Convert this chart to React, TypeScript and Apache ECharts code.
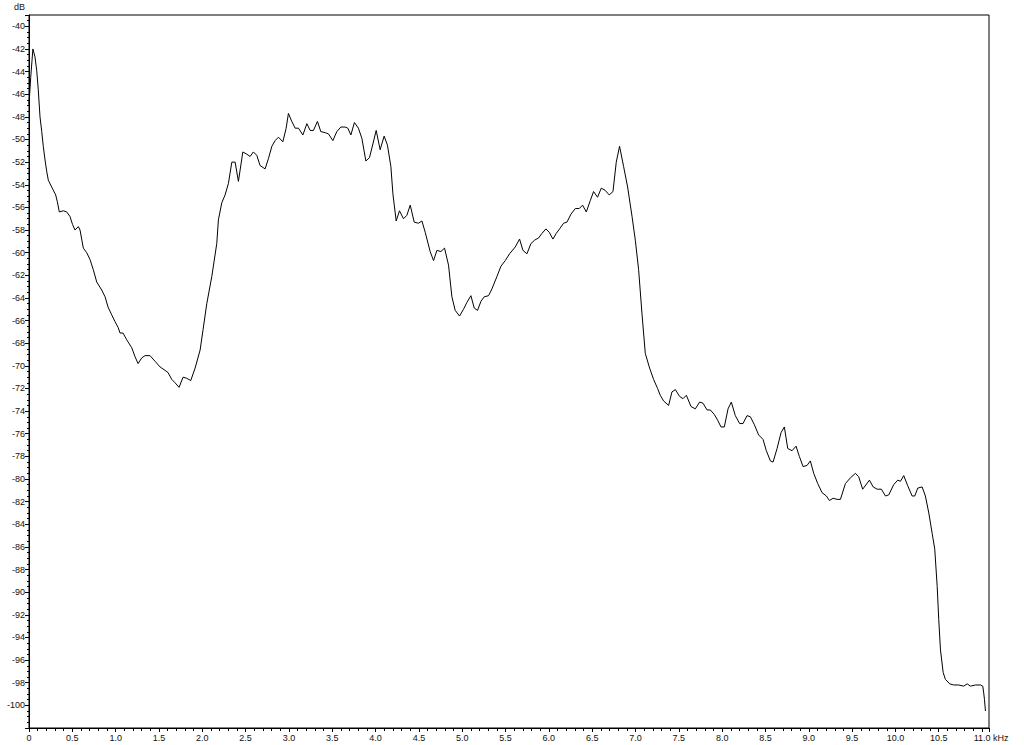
import React, { useEffect, useRef } from "react";
import * as echarts from "echarts";

// Frequency (kHz) of each spectrum sample
const freqKHz: number[] = [
  0.0, 0.02, 0.045, 0.069, 0.089, 0.107, 0.127, 0.147, 0.165, 0.185, 0.204, 0.223, 0.262, 0.308, 0.327, 0.35,
  0.396, 0.435, 0.473, 0.502, 0.531, 0.569, 0.589, 0.627, 0.666, 0.704, 0.742, 0.782, 0.839, 0.878, 0.912, 0.955,
  0.993, 1.028, 1.051, 1.085, 1.128, 1.186, 1.224, 1.259, 1.301, 1.339, 1.397, 1.455, 1.513, 1.57, 1.605, 1.648,
  1.686, 1.732, 1.778, 1.821, 1.867, 1.917, 1.975, 2.009, 2.052, 2.11, 2.167, 2.186, 2.225, 2.263, 2.301, 2.341,
  2.379, 2.417, 2.468, 2.514, 2.552, 2.59, 2.629, 2.667, 2.725, 2.763, 2.803, 2.841, 2.879, 2.93, 2.968, 2.994,
  3.033, 3.072, 3.11, 3.161, 3.207, 3.245, 3.283, 3.329, 3.368, 3.418, 3.456, 3.507, 3.553, 3.599, 3.649, 3.68,
  3.715, 3.756, 3.802, 3.842, 3.888, 3.93, 3.969, 4.007, 4.053, 4.099, 4.137, 4.177, 4.2, 4.238, 4.276, 4.322,
  4.361, 4.4, 4.446, 4.495, 4.535, 4.573, 4.63, 4.669, 4.708, 4.754, 4.796, 4.842, 4.881, 4.919, 4.969, 5.015,
  5.054, 5.1, 5.139, 5.177, 5.216, 5.254, 5.304, 5.343, 5.401, 5.447, 5.497, 5.546, 5.612, 5.662, 5.701, 5.747,
  5.793, 5.835, 5.881, 5.92, 5.966, 6.005, 6.047, 6.085, 6.124, 6.17, 6.209, 6.255, 6.305, 6.351, 6.389, 6.432,
  6.478, 6.516, 6.562, 6.605, 6.651, 6.697, 6.74, 6.778, 6.816, 6.863, 6.909, 6.96, 6.998, 7.036, 7.075, 7.113,
  7.163, 7.209, 7.255, 7.286, 7.324, 7.382, 7.421, 7.46, 7.509, 7.548, 7.587, 7.641, 7.691, 7.74, 7.779, 7.826,
  7.864, 7.91, 7.948, 7.987, 8.025, 8.068, 8.106, 8.152, 8.202, 8.241, 8.287, 8.326, 8.372, 8.421, 8.472, 8.51,
  8.557, 8.588, 8.634, 8.68, 8.718, 8.757, 8.807, 8.853, 8.891, 8.934, 8.98, 9.018, 9.057, 9.103, 9.153, 9.203,
  9.238, 9.281, 9.327, 9.365, 9.423, 9.48, 9.538, 9.576, 9.622, 9.7, 9.743, 9.789, 9.838, 9.885, 9.923, 9.98,
  10.027, 10.058, 10.096, 10.142, 10.193, 10.223, 10.258, 10.308, 10.346, 10.385, 10.424, 10.454, 10.482, 10.5,
  10.52, 10.551, 10.577, 10.627, 10.673, 10.731, 10.788, 10.828, 10.866, 10.924, 10.981, 11.008, 11.019, 11.028,
  11.039,
];

// Level (dB) of each spectrum sample
const levelDb: number[] = [
  -46.9, -44.5, -42.0, -42.7, -43.9, -45.6, -48.0, -49.3, -50.6, -51.8, -52.8, -53.6, -54.2, -54.9, -55.5, -56.4,
  -56.3, -56.4, -56.8, -57.5, -58.0, -57.7, -58.0, -59.6, -60.0, -60.6, -61.5, -62.6, -63.3, -63.9, -64.8, -65.5,
  -66.1, -66.6, -67.1, -67.1, -67.7, -68.4, -69.2, -69.8, -69.3, -69.1, -69.1, -69.6, -70.1, -70.4, -70.6, -71.2,
  -71.5, -71.9, -71.0, -71.1, -71.3, -70.2, -68.6, -66.8, -64.5, -62.1, -59.2, -57.1, -55.6, -54.9, -53.9, -52.0,
  -52.0, -53.7, -51.1, -51.3, -51.5, -51.1, -51.4, -52.3, -52.6, -51.7, -50.6, -50.1, -49.8, -50.2, -49.0, -47.7,
  -48.4, -49.0, -49.0, -49.6, -48.6, -49.2, -49.2, -48.4, -49.3, -49.4, -49.5, -50.1, -49.3, -48.9, -48.9, -49.0,
  -49.6, -48.5, -49.0, -49.9, -51.9, -51.6, -50.4, -49.2, -50.9, -49.7, -50.5, -52.4, -54.8, -57.2, -56.3, -57.0,
  -56.7, -55.8, -57.3, -57.4, -57.2, -58.2, -59.9, -60.7, -59.8, -59.9, -59.6, -61.1, -63.9, -65.1, -65.6, -65.0,
  -64.4, -63.8, -64.9, -65.1, -64.3, -63.9, -63.8, -63.2, -62.1, -61.2, -60.7, -60.1, -59.5, -58.8, -59.8, -60.1,
  -59.2, -58.9, -58.7, -58.3, -57.9, -58.2, -58.8, -58.3, -57.9, -57.4, -57.3, -56.6, -56.1, -56.1, -55.8, -56.4,
  -55.4, -54.6, -55.1, -54.3, -54.5, -54.9, -54.6, -52.0, -50.6, -52.4, -54.2, -56.8, -58.9, -61.5, -65.4, -68.9,
  -70.2, -71.2, -72.0, -72.6, -73.1, -73.5, -72.3, -72.1, -72.7, -72.9, -72.6, -73.6, -73.8, -73.2, -73.3, -73.9,
  -73.9, -74.3, -74.8, -75.4, -75.4, -73.8, -73.2, -74.4, -75.1, -75.1, -74.4, -74.5, -75.2, -76.1, -76.5, -77.5,
  -78.4, -78.5, -77.3, -75.9, -75.4, -77.3, -77.5, -77.1, -78.0, -78.9, -78.8, -78.4, -79.5, -80.4, -81.2, -81.5,
  -81.9, -81.7, -81.8, -81.8, -80.4, -79.9, -79.5, -79.8, -80.9, -80.1, -80.7, -80.9, -80.9, -81.5, -81.4, -80.5,
  -80.1, -80.2, -79.7, -80.6, -81.5, -81.5, -80.8, -80.7, -81.5, -83.0, -84.8, -86.2, -89.5, -92.4,
  -95.1, -97.1, -97.7, -98.1, -98.2, -98.2, -98.3, -98.1, -98.3, -98.2, -98.2, -98.3, -98.9, -99.5,
  -100.5,
];

const xMin = 0;
const xMax = 11.08;
const xStep = 0.5;
const yMin = -102;
const yMax = -39;
const yStep = 2;
const xUnit = "kHz";
const yUnit = "dB";

export default function App() {
  const ref = useRef<HTMLDivElement>(null);

  useEffect(() => {
    document.body.style.margin = "0";
    document.body.style.overflow = "hidden";
    if (!ref.current) return;
    const chart = echarts.init(ref.current, undefined, { renderer: "svg" });
    const font = "'Liberation Sans', Arial, sans-serif";
    const data = freqKHz.map((f, i) => [f, levelDb[i]]);
    chart.setOption({
      animation: false,
      backgroundColor: "#ffffff",
      grid: {
        left: 29,
        top: 15,
        right: 35,
        bottom: 17,
        show: true,
        borderColor: "#000000",
        borderWidth: 1,
        backgroundColor: "transparent",
      },
      graphic: [
        {
          type: "text",
          left: 993,
          top: 733,
          style: {
            text: xUnit,
            fontFamily: font,
            fontSize: 9,
            fill: "#111",
          },
        },
      ],
      xAxis: {
        type: "value",
        min: xMin,
        max: xMax,
        interval: xStep,
        axisLine: { show: true, lineStyle: { color: "#000", width: 1 } },
        axisTick: { show: true, length: 4, lineStyle: { color: "#000" } },
        minorTick: { show: true, splitNumber: 5, length: 3, lineStyle: { color: "#000" } },
        splitLine: { show: false },
        axisLabel: {
          fontFamily: font,
          fontSize: 9,
          color: "#111",
          margin: 5,
          showMaxLabel: true,
          formatter: (v: number) => {
            if (v > 11.0001) return "";
            if (Math.abs(v) < 1e-9) return "0";
            const half = v * 2;
            if (Math.abs(half - Math.round(half)) > 1e-6) return "";
            return v.toFixed(1);
          },
        },
      },
      yAxis: {
        type: "value",
        min: yMin,
        max: yMax,
        interval: yStep,
        name: yUnit,
        nameLocation: "end",
        nameGap: 4,
        nameTextStyle: {
          fontFamily: font,
          fontSize: 9,
          color: "#111",
          align: "right",
          verticalAlign: "bottom",
          padding: [0, 4, 0, 0],
        },
        axisLine: { show: true, lineStyle: { color: "#000", width: 1 } },
        axisTick: { show: true, length: 4, lineStyle: { color: "#000" } },
        minorTick: { show: true, splitNumber: 4, length: 2, lineStyle: { color: "#000" } },
        splitLine: { show: false },
        axisLabel: {
          fontFamily: font,
          fontSize: 9,
          color: "#111",
          margin: 4,
          formatter: (v: number) => {
            const r = Math.round(v);
            if (Math.abs(v - r) > 1e-6) return "";
            if (r < -100 || r > -40 || r % 2 !== 0) return "";
            return String(r);
          },
        },
      },
      series: [
        {
          type: "line",
          data,
          showSymbol: false,
          symbol: "none",
          lineStyle: { color: "#000000", width: 1 },
          clip: true,
        },
      ],
    });
    return () => chart.dispose();
  }, []);

  return <div ref={ref} style={{ width: 1024, height: 745 }} />;
}
